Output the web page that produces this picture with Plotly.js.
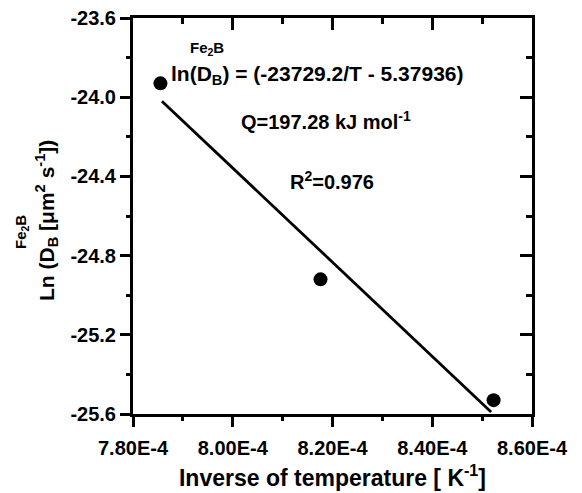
<!DOCTYPE html>
<html>
<head>
<meta charset="utf-8">
<script src="https://cdn.plot.ly/plotly-3.0.1.min.js"></script>
<style>html,body{margin:0;padding:0;background:#fff;}#chart{width:582px;height:493px;}</style>
</head>
<body>
<div id="chart"></div>
<script>
// Data
const invT = [7.855e-4, 8.176e-4, 8.523e-4];
const lnD = [-23.93, -24.92, -25.53];
const fitInvT = [7.858e-4, 8.518e-4];
const fitLnD = [-24.02, -25.59];
const xTickVals = [7.8e-4, 8.0e-4, 8.2e-4, 8.4e-4, 8.6e-4];
const xTickText = ['7.80E-4', '8.00E-4', '8.20E-4', '8.40E-4', '8.60E-4'];
const xMinorVals = [7.9e-4, 8.1e-4, 8.3e-4, 8.5e-4];
const yTickVals = [-23.6, -24.0, -24.4, -24.8, -25.2, -25.6];
const yTickText = ['-23.6', '-24.0', '-24.4', '-24.8', '-25.2', '-25.6'];
const yMinorVals = [-23.8, -24.2, -24.6, -25.0, -25.4];

const F = 'Liberation Sans, Arial, sans-serif';
const fontB = (s) => ({family: F, size: s, color: '#000', weight: 'bold'});

const ghost = (xa, ya) => ({x: invT, y: lnD, xaxis: xa, yaxis: ya, mode: 'markers', marker: {opacity: 0}, hoverinfo: 'skip', showlegend: false});
const traces = [
  {x: fitInvT, y: fitLnD, mode: 'lines', line: {color: '#000', width: 2.8}, hoverinfo: 'skip', showlegend: false},
  {x: invT, y: lnD, mode: 'markers', marker: {color: '#000', size: 14}, showlegend: false},
  ghost('x2', 'y2'), ghost('x3', 'y3'), ghost('x4', 'y4')
];

const xr = [7.8e-4, 8.6e-4], yr = [-25.6, -23.6];
const base = {showgrid: false, zeroline: false, linecolor: '#000', linewidth: 3, tickwidth: 3, tickcolor: '#000', tickmode: 'array'};
const ax = (o) => Object.assign({}, base, o);

const layout = {
  width: 582, height: 493,
  margin: {l: 133, r: 50, t: 18, b: 79},
  paper_bgcolor: '#fff', plot_bgcolor: '#fff',
  showlegend: false,
  xaxis: ax({range: xr, showline: true, tickvals: xTickVals, ticktext: xTickText, ticks: 'outside', ticklen: 10,
    tickfont: fontB(20), ticklabelstandoff: 4,
    title: {text: 'Inverse of temperature [ K<sup>-1</sup>]', font: fontB(23), standoff: 12}}),
  yaxis: ax({range: yr, showline: true, tickvals: yTickVals, ticktext: yTickText, ticks: 'outside', ticklen: 10,
    tickfont: fontB(20)}),
  xaxis2: ax({range: xr, overlaying: 'x', anchor: 'y', side: 'top', showline: true, tickvals: xTickVals,
    ticks: 'inside', ticklen: 12, showticklabels: false}),
  yaxis2: ax({range: yr, overlaying: 'y', anchor: 'x', side: 'right', showline: true, tickvals: yTickVals,
    ticks: 'inside', ticklen: 12, showticklabels: false}),
  xaxis3: ax({range: xr, overlaying: 'x', anchor: 'y', side: 'bottom', showline: false, tickvals: xMinorVals,
    ticks: 'outside', ticklen: 6, showticklabels: false}),
  yaxis3: ax({range: yr, overlaying: 'y', anchor: 'x', side: 'left', showline: false, tickvals: yMinorVals,
    ticks: 'outside', ticklen: 6, showticklabels: false}),
  xaxis4: ax({range: xr, overlaying: 'x', anchor: 'y', side: 'top', showline: false, tickvals: xMinorVals,
    ticks: 'inside', ticklen: 6, showticklabels: false}),
  yaxis4: ax({range: yr, overlaying: 'y', anchor: 'x', side: 'right', showline: false, tickvals: yMinorVals,
    ticks: 'inside', ticklen: 6, showticklabels: false}),
  annotations: [
    {text: 'ln(D<sub>B</sub>) = (-23729.2/T - 5.37936)', xref: 'paper', yref: 'paper',
     x: (317 - 133) / 399, y: (414 - 75) / 396, xanchor: 'center', yanchor: 'middle', showarrow: false, font: fontB(21)},
    {text: 'Fe<sub>2</sub>B', xref: 'paper', yref: 'paper',
     x: (207 - 133) / 399, y: (414 - 48) / 396, xanchor: 'center', yanchor: 'middle', showarrow: false, font: fontB(15)},
    {text: 'Q=197.28 kJ mol<sup>-1</sup>', xref: 'paper', yref: 'paper',
     x: (326 - 133) / 399, y: (414 - 120) / 396, xanchor: 'center', yanchor: 'middle', showarrow: false, font: fontB(20)},
    {text: 'R<sup>2</sup>=0.976', xref: 'paper', yref: 'paper',
     x: (332 - 133) / 399, y: (414 - 180) / 396, xanchor: 'center', yanchor: 'middle', showarrow: false, font: fontB(20)},
    {text: 'Ln (D<sub>B</sub> [μm<sup>2</sup> s<sup>-1</sup>])', xref: 'paper', yref: 'paper', textangle: -90,
     x: (46 - 133) / 399, y: (414 - 221) / 396, xanchor: 'center', yanchor: 'middle', showarrow: false, font: fontB(21)},
    {text: 'Fe<sub>2</sub>B', xref: 'paper', yref: 'paper', textangle: -90,
     x: (21 - 133) / 399, y: (414 - 232) / 396, xanchor: 'center', yanchor: 'middle', showarrow: false, font: fontB(15)}
  ]
};

Plotly.newPlot('chart', traces, layout, {displayModeBar: false, staticPlot: true});
</script>
</body>
</html>
